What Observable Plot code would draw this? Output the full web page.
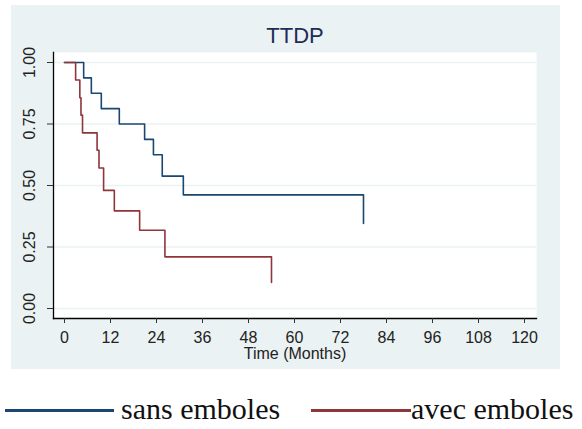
<!DOCTYPE html>
<html>
<head>
<meta charset="utf-8">
<script src="https://cdn.jsdelivr.net/npm/d3@7"></script>
<script src="https://cdn.jsdelivr.net/npm/@observablehq/plot@0.6"></script>
<style>
  html, body { margin: 0; padding: 0; background: #ffffff; }
  body { width: 582px; height: 429px; position: relative; overflow: hidden; }
  #graph { position: absolute; left: 11px; top: 5px; width: 549px; height: 364px; background: #eaf2f3; }
  #graph svg { display: block; }
  .legend { position: absolute; top: 389px; left: 0; width: 582px; height: 40px; font-family: "Liberation Serif", "DejaVu Serif", serif; font-size: 30px; color: #111; }
  .swatch { position: absolute; height: 3px; top: 20px; }
  .ltext { position: absolute; top: 0; line-height: 40px; white-space: nowrap; }
</style>
</head>
<body>
<div id="graph"></div>
<div class="legend" id="legend"></div>
<script>
// Data (Kaplan-Meier style step curves)
const title = "TTDP";
const xLabel = "Time (Months)";
const seriesNames = ["sans emboles", "avec emboles"];
const seriesColors = ["#1a476f", "#90353b"];

const sansTime  = [0, 5, 7, 9.6, 14.3, 20.9, 23.2, 25.5, 31, 78];
const sansSurv  = [1, 0.9375, 0.875, 0.8125, 0.75, 0.6875, 0.625, 0.538, 0.462, 0.346];

const avecTime  = [0, 2.9, 4.0, 4.3, 4.7, 8.5, 9.0, 10.2, 13.0, 19.6, 26.2, 54];
const avecSurv  = [1, 0.929, 0.857, 0.786, 0.714, 0.643, 0.571, 0.48, 0.397, 0.318, 0.21, 0.106];

const xTicks = [0, 12, 24, 36, 48, 60, 72, 84, 96, 108, 120];
const yTicks = [0, 0.25, 0.5, 0.75, 1];

const rows = [
  ...sansTime.map((t, i) => ({t, s: sansSurv[i], g: seriesNames[0]})),
  ...avecTime.map((t, i) => ({t, s: avecSurv[i], g: seriesNames[1]}))
];

const fmt = d3.format(".2f");

const chart = Plot.plot({
  width: 549,
  height: 364,
  marginLeft: 42,
  marginRight: 24,
  marginTop: 47,
  marginBottom: 51,
  style: {background: "transparent", fontFamily: "Liberation Sans, Arial, sans-serif", fontSize: "16px", color: "#222"},
  x: {domain: [0, 120], insetLeft: 11, insetRight: 12},
  y: {domain: [0, 1], insetTop: 10, insetBottom: 10},
  color: {domain: seriesNames, range: seriesColors},
  marks: [
    Plot.frame({fill: "white", stroke: null}),
    Plot.gridY(yTicks, {stroke: "#eaf2f3", strokeOpacity: 1, strokeWidth: 1.6}),
    Plot.frame({anchor: "left", stroke: "#000", strokeWidth: 1.3}),
    Plot.frame({anchor: "bottom", stroke: "#000", strokeWidth: 1.3}),
    Plot.axisY(yTicks, {tickSize: 6, tickFormat: () => "", label: null, stroke: "#333"}),
    Plot.text(yTicks, {
      y: d => d, text: fmt, frameAnchor: "left", rotate: -90, dx: -19,
      textAnchor: "middle", lineAnchor: "bottom", fontSize: 16, fill: "#222"
    }),
    Plot.axisX(xTicks, {
      tickSize: 5, tickPadding: 8, fontSize: 16, fill: "#222", stroke: "#333",
      label: null
    }),
    Plot.text([xLabel], {frameAnchor: "bottom", dy: 40, fontSize: 16, fill: "#222"}),
    Plot.text([title], {frameAnchor: "top", dy: -25, fontSize: 22, fill: "#1f2c56"}),
    Plot.line(rows, {x: "t", y: "s", z: "g", stroke: "g", curve: "step-after", strokeWidth: 1.6})
  ]
});
document.getElementById("graph").appendChild(chart);

// Legend below the chart
const legendLayout = [
  {lineLeft: 5, lineWidth: 109, textLeft: 121},
  {lineLeft: 311, lineWidth: 100, textLeft: 411}
];
const legend = document.getElementById("legend");
seriesNames.forEach((name, i) => {
  const L = legendLayout[i];
  const sw = document.createElement("div");
  sw.className = "swatch";
  sw.style.left = L.lineLeft + "px";
  sw.style.width = L.lineWidth + "px";
  sw.style.background = seriesColors[i];
  legend.appendChild(sw);
  const tx = document.createElement("div");
  tx.className = "ltext";
  tx.style.left = L.textLeft + "px";
  tx.textContent = name;
  legend.appendChild(tx);
});
</script>
</body>
</html>
